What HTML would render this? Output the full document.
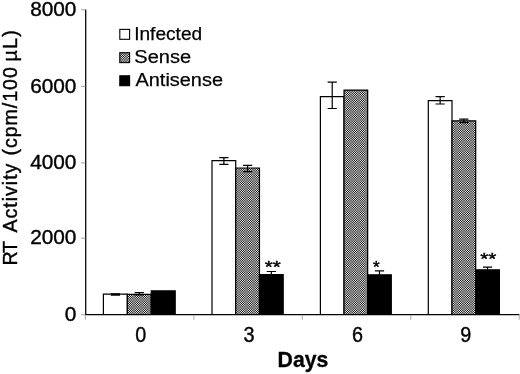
<!DOCTYPE html>
<html><head><meta charset="utf-8"><title>chart</title>
<style>
html,body{margin:0;padding:0;background:#fff;}
body{width:520px;height:374px;overflow:hidden;font-family:"Liberation Sans",sans-serif;}
svg{display:block;will-change:transform;}
text{font-family:"Liberation Sans",sans-serif;fill:#000;}
</style></head><body>
<svg width="520" height="374" viewBox="0 0 520 374">
<defs>
<pattern id="pv" x="17" y="0" width="30" height="16" patternUnits="userSpaceOnUse" shape-rendering="crispEdges"><rect x="0" y="0" width="1" height="16" fill="#ffffff"/><rect x="1" y="0" width="1" height="16" fill="#0c0c0c"/><rect x="2" y="0" width="1" height="16" fill="#d2d2d2"/><rect x="3" y="0" width="1" height="16" fill="#5a5a5a"/><rect x="4" y="0" width="1" height="16" fill="#737373"/><rect x="5" y="0" width="1" height="16" fill="#bdbdbd"/><rect x="6" y="0" width="1" height="16" fill="#1b1b1b"/><rect x="7" y="0" width="1" height="16" fill="#fcfcfc"/><rect x="8" y="0" width="1" height="16" fill="#030303"/><rect x="9" y="0" width="1" height="16" fill="#e4e4e4"/><rect x="10" y="0" width="1" height="16" fill="#424242"/><rect x="11" y="0" width="1" height="16" fill="#8c8c8c"/><rect x="12" y="0" width="1" height="16" fill="#a5a5a5"/><rect x="13" y="0" width="1" height="16" fill="#2d2d2d"/><rect x="14" y="0" width="1" height="16" fill="#f3f3f3"/><rect x="15" y="0" width="1" height="16" fill="#000000"/><rect x="16" y="0" width="1" height="16" fill="#f3f3f3"/><rect x="17" y="0" width="1" height="16" fill="#2d2d2d"/><rect x="18" y="0" width="1" height="16" fill="#a5a5a5"/><rect x="19" y="0" width="1" height="16" fill="#8c8c8c"/><rect x="20" y="0" width="1" height="16" fill="#424242"/><rect x="21" y="0" width="1" height="16" fill="#e4e4e4"/><rect x="22" y="0" width="1" height="16" fill="#030303"/><rect x="23" y="0" width="1" height="16" fill="#fcfcfc"/><rect x="24" y="0" width="1" height="16" fill="#1b1b1b"/><rect x="25" y="0" width="1" height="16" fill="#bdbdbd"/><rect x="26" y="0" width="1" height="16" fill="#737373"/><rect x="27" y="0" width="1" height="16" fill="#5a5a5a"/><rect x="28" y="0" width="1" height="16" fill="#d2d2d2"/><rect x="29" y="0" width="1" height="16" fill="#0c0c0c"/></pattern>
<pattern id="ph" x="0" y="3" width="16" height="30" patternUnits="userSpaceOnUse" shape-rendering="crispEdges"><rect x="0" y="0" width="16" height="1" fill="#ffffff"/><rect x="0" y="1" width="16" height="1" fill="#090909"/><rect x="0" y="2" width="16" height="1" fill="#d9d9d9"/><rect x="0" y="3" width="16" height="1" fill="#515151"/><rect x="0" y="4" width="16" height="1" fill="#7c7c7c"/><rect x="0" y="5" width="16" height="1" fill="#b5b5b5"/><rect x="0" y="6" width="16" height="1" fill="#202020"/><rect x="0" y="7" width="16" height="1" fill="#f9f9f9"/><rect x="0" y="8" width="16" height="1" fill="#010101"/><rect x="0" y="9" width="16" height="1" fill="#eaeaea"/><rect x="0" y="10" width="16" height="1" fill="#3a3a3a"/><rect x="0" y="11" width="16" height="1" fill="#959595"/><rect x="0" y="12" width="16" height="1" fill="#9d9d9d"/><rect x="0" y="13" width="16" height="1" fill="#343434"/><rect x="0" y="14" width="16" height="1" fill="#eeeeee"/><rect x="0" y="15" width="16" height="1" fill="#000000"/><rect x="0" y="16" width="16" height="1" fill="#f6f6f6"/><rect x="0" y="17" width="16" height="1" fill="#262626"/><rect x="0" y="18" width="16" height="1" fill="#aeaeae"/><rect x="0" y="19" width="16" height="1" fill="#838383"/><rect x="0" y="20" width="16" height="1" fill="#4a4a4a"/><rect x="0" y="21" width="16" height="1" fill="#dfdfdf"/><rect x="0" y="22" width="16" height="1" fill="#060606"/><rect x="0" y="23" width="16" height="1" fill="#fefefe"/><rect x="0" y="24" width="16" height="1" fill="#151515"/><rect x="0" y="25" width="16" height="1" fill="#c5c5c5"/><rect x="0" y="26" width="16" height="1" fill="#6a6a6a"/><rect x="0" y="27" width="16" height="1" fill="#626262"/><rect x="0" y="28" width="16" height="1" fill="#cbcbcb"/><rect x="0" y="29" width="16" height="1" fill="#111111"/></pattern>
</defs>
<rect x="103.40" y="294.05" width="23.93" height="20.55" fill="#fff"/>
<path d="M103.40 314.60V294.05H127.33V314.60" fill="none" stroke="#000" stroke-width="1.2"/>
<g style="isolation:isolate"><rect x="127.33" y="294.30" width="23.93" height="20.30" fill="url(#pv)"/><rect x="127.33" y="294.30" width="23.93" height="20.30" fill="url(#ph)" style="mix-blend-mode:exclusion"/></g>
<path d="M127.33 314.60V294.30H151.27V314.60" fill="none" stroke="#000" stroke-width="1.2"/>
<rect x="151.27" y="290.90" width="23.93" height="23.70" fill="#000"/>
<path d="M151.27 314.60V290.90H175.20V314.60" fill="none" stroke="#000" stroke-width="1.2"/>
<rect x="212.00" y="160.70" width="23.73" height="153.90" fill="#fff"/>
<path d="M212.00 314.60V160.70H235.73V314.60" fill="none" stroke="#000" stroke-width="1.2"/>
<g style="isolation:isolate"><rect x="235.73" y="168.00" width="23.73" height="146.60" fill="url(#pv)"/><rect x="235.73" y="168.00" width="23.73" height="146.60" fill="url(#ph)" style="mix-blend-mode:exclusion"/></g>
<path d="M235.73 314.60V168.00H259.47V314.60" fill="none" stroke="#000" stroke-width="1.2"/>
<rect x="259.47" y="274.60" width="23.73" height="40.00" fill="#000"/>
<path d="M259.47 314.60V274.60H283.20V314.60" fill="none" stroke="#000" stroke-width="1.2"/>
<rect x="320.40" y="96.60" width="23.63" height="218.00" fill="#fff"/>
<path d="M320.40 314.60V96.60H344.03V314.60" fill="none" stroke="#000" stroke-width="1.2"/>
<g style="isolation:isolate"><rect x="344.03" y="90.10" width="23.63" height="224.50" fill="url(#pv)"/><rect x="344.03" y="90.10" width="23.63" height="224.50" fill="url(#ph)" style="mix-blend-mode:exclusion"/></g>
<path d="M344.03 314.60V90.10H367.67V314.60" fill="none" stroke="#000" stroke-width="1.2"/>
<rect x="367.67" y="274.80" width="23.63" height="39.80" fill="#000"/>
<path d="M367.67 314.60V274.80H391.30V314.60" fill="none" stroke="#000" stroke-width="1.2"/>
<rect x="428.30" y="100.60" width="23.70" height="214.00" fill="#fff"/>
<path d="M428.30 314.60V100.60H452.00V314.60" fill="none" stroke="#000" stroke-width="1.2"/>
<g style="isolation:isolate"><rect x="452.00" y="120.90" width="23.70" height="193.70" fill="url(#pv)"/><rect x="452.00" y="120.90" width="23.70" height="193.70" fill="url(#ph)" style="mix-blend-mode:exclusion"/></g>
<path d="M452.00 314.60V120.90H475.70V314.60" fill="none" stroke="#000" stroke-width="1.2"/>
<rect x="475.70" y="269.80" width="23.70" height="44.80" fill="#000"/>
<path d="M475.70 314.60V269.80H499.40V314.60" fill="none" stroke="#000" stroke-width="1.2"/>
<path d="M115.37 293.90V295.20M110.77 293.90h9.2M110.77 295.20h9.2" stroke="#000" stroke-width="1.2" fill="none"/>
<path d="M139.30 292.70V294.80M134.70 292.70h9.2M134.70 294.80h9.2" stroke="#000" stroke-width="1.2" fill="none"/>
<path d="M223.87 157.60V164.40M219.27 157.60h9.2M219.27 164.40h9.2" stroke="#000" stroke-width="1.2" fill="none"/>
<path d="M247.60 165.40V171.60M243.00 165.40h9.2M243.00 171.60h9.2" stroke="#000" stroke-width="1.2" fill="none"/>
<path d="M271.33 271.50V277.00M266.73 271.50h9.2M266.73 277.00h9.2" stroke="#000" stroke-width="1.2" fill="none"/>
<path d="M332.22 82.10V108.50M327.62 82.10h9.2M327.62 108.50h9.2" stroke="#000" stroke-width="1.2" fill="none"/>
<path d="M379.48 270.80V278.00M374.88 270.80h9.2M374.88 278.00h9.2" stroke="#000" stroke-width="1.2" fill="none"/>
<path d="M440.15 96.70V104.00M435.55 96.70h9.2M435.55 104.00h9.2" stroke="#000" stroke-width="1.2" fill="none"/>
<path d="M463.85 119.20V122.60M459.25 119.20h9.2M459.25 122.60h9.2" stroke="#000" stroke-width="1.2" fill="none"/>
<path d="M487.55 267.10V272.00M482.95 267.10h9.2M482.95 272.00h9.2" stroke="#000" stroke-width="1.2" fill="none"/>
<path d="M85.7 9.5V314.60H519.4" stroke="#000" stroke-width="1.25" stroke-linejoin="miter" fill="none"/>
<path d="M81 314.60H85.2" stroke="#b4b4b4" stroke-width="1.2"/>
<path d="M81 238.25H85.2" stroke="#b4b4b4" stroke-width="1.2"/>
<path d="M81 162.85H85.2" stroke="#b4b4b4" stroke-width="1.2"/>
<path d="M81 86.40H85.2" stroke="#b4b4b4" stroke-width="1.2"/>
<path d="M81 9.75H85.2" stroke="#b4b4b4" stroke-width="1.2"/>
<path d="M85.40 315.10V319.8" stroke="#b4b4b4" stroke-width="1.2"/>
<path d="M193.85 315.10V319.8" stroke="#b4b4b4" stroke-width="1.2"/>
<path d="M302.30 315.10V319.8" stroke="#b4b4b4" stroke-width="1.2"/>
<path d="M410.75 315.10V319.8" stroke="#b4b4b4" stroke-width="1.2"/>
<path d="M519.20 315.10V319.8" stroke="#b4b4b4" stroke-width="1.2"/>
<text x="76.4" y="321.10" font-size="20.8" text-anchor="end" stroke="#000" stroke-width="0.4">0</text>
<text x="76.4" y="244.15" font-size="20.8" text-anchor="end" stroke="#000" stroke-width="0.4">2000</text>
<text x="76.4" y="168.95" font-size="20.8" text-anchor="end" stroke="#000" stroke-width="0.4">4000</text>
<text x="76.4" y="92.55" font-size="20.8" text-anchor="end" stroke="#000" stroke-width="0.4">6000</text>
<text x="76.4" y="15.70" font-size="20.8" text-anchor="end" stroke="#000" stroke-width="0.4">8000</text>
<text transform="translate(140.80 342.4) scale(0.9 1)" font-size="22" text-anchor="middle" stroke="#000" stroke-width="0.4">0</text>
<text transform="translate(249.10 342.4) scale(0.9 1)" font-size="22" text-anchor="middle" stroke="#000" stroke-width="0.4">3</text>
<text transform="translate(357.40 342.4) scale(0.9 1)" font-size="22" text-anchor="middle" stroke="#000" stroke-width="0.4">6</text>
<text transform="translate(465.70 342.4) scale(0.9 1)" font-size="22" text-anchor="middle" stroke="#000" stroke-width="0.4">9</text>
<text x="277.6" y="367.3" font-size="22.6" font-weight="bold" stroke="#000" stroke-width="0.3" textLength="50.8" lengthAdjust="spacingAndGlyphs">Days</text>
<text transform="translate(16.7 265.6) rotate(-90)" font-size="19.6" stroke="#000" stroke-width="0.4" textLength="24.5" lengthAdjust="spacing">RT</text>
<text transform="translate(16.7 232.6) rotate(-90)" font-size="19.6" stroke="#000" stroke-width="0.4" textLength="69.0" lengthAdjust="spacing">Activity</text>
<text transform="translate(16.7 155.6) rotate(-90)" font-size="19.6" stroke="#000" stroke-width="0.4" textLength="88.5" lengthAdjust="spacing">(cpm/100</text>
<text transform="translate(16.7 61.6) rotate(-90)" font-size="19.6" stroke="#000" stroke-width="0.4" textLength="31.5" lengthAdjust="spacing">µL)</text>
<rect x="119.8" y="29.4" width="9.8" height="9.9" fill="#fff" stroke="#000" stroke-width="1.1"/>
<g style="isolation:isolate"><rect x="119.80" y="52.70" width="9.80" height="9.90" fill="url(#pv)"/><rect x="119.80" y="52.70" width="9.80" height="9.90" fill="url(#ph)" style="mix-blend-mode:exclusion"/></g>
<rect x="119.8" y="52.7" width="9.8" height="9.9" fill="none" stroke="#000" stroke-width="1.1"/>
<rect x="119.8" y="75.8" width="9.8" height="9.9" fill="#000" stroke="#000" stroke-width="1.1"/>
<text x="134.2" y="39.7" font-size="18.9" stroke="#000" stroke-width="0.25" textLength="68" lengthAdjust="spacingAndGlyphs">Infected</text>
<text x="134.3" y="63.3" font-size="18.9" stroke="#000" stroke-width="0.25" textLength="56.8" lengthAdjust="spacingAndGlyphs">Sense</text>
<text x="135.5" y="86.0" font-size="18.9" stroke="#000" stroke-width="0.25" textLength="87.5" lengthAdjust="spacingAndGlyphs">Antisense</text>
<text x="264.8" y="272.6" font-size="17.1" stroke="#000" stroke-width="0.4" textLength="16.0" lengthAdjust="spacingAndGlyphs">**</text>
<text x="372.9" y="272.6" font-size="17.1" stroke="#000" stroke-width="0.4">*</text>
<text x="480.3" y="265.4" font-size="17.1" stroke="#000" stroke-width="0.4" textLength="16.0" lengthAdjust="spacingAndGlyphs">**</text>
</svg>
</body></html>
